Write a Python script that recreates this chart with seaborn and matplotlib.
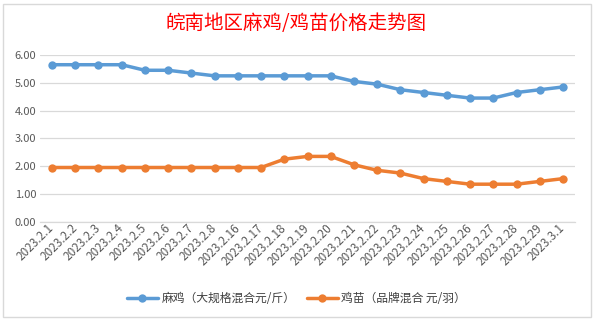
import matplotlib
matplotlib.use("Agg")
import matplotlib.pyplot as plt
import matplotlib.transforms as mtransforms
from matplotlib.patches import Rectangle
from matplotlib.lines import Line2D
import seaborn as sns
import pandas as pd

dates = ["2023.2.1", "2023.2.2", "2023.2.3", "2023.2.4", "2023.2.5", "2023.2.6",
         "2023.2.7", "2023.2.8", "2023.2.16", "2023.2.17", "2023.2.18", "2023.2.19",
         "2023.2.20", "2023.2.21", "2023.2.22", "2023.2.23", "2023.2.24", "2023.2.25",
         "2023.2.26", "2023.2.27", "2023.2.28", "2023.2.29", "2023.3.1"]
maji = [5.65, 5.65, 5.65, 5.65, 5.45, 5.45, 5.35, 5.25, 5.25, 5.25, 5.25, 5.25,
        5.25, 5.05, 4.95, 4.75, 4.65, 4.55, 4.45, 4.45, 4.65, 4.75, 4.85]
jimiao = [1.95, 1.95, 1.95, 1.95, 1.95, 1.95, 1.95, 1.95, 1.95, 1.95, 2.25, 2.35,
          2.35, 2.05, 1.85, 1.75, 1.55, 1.45, 1.35, 1.35, 1.35, 1.45, 1.55]
series_names = ["麻鸡（大规格混合元/斤）", "鸡苗（品牌混合 元/羽）"]
yticks = [0, 1, 2, 3, 4, 5, 6]
title = "皖南地区麻鸡/鸡苗价格走势图"

colors = ["#5B9BD5", "#ED7D31"]

sns.set_style("white")
plt.rcParams['font.family'] = ['Noto Sans CJK SC', 'DejaVu Sans']

df = pd.DataFrame({
    "date": dates * 2,
    "price": maji + jimiao,
    "series": [series_names[0]] * len(dates) + [series_names[1]] * len(dates),
})

fig = plt.figure(figsize=(5.93, 3.21), dpi=100)
W, H = 593, 321
ax = fig.add_axes([40.4 / W, 1 - 221.7 / H, (574.6 - 40.4) / W, (221.7 - 55) / H])

sns.lineplot(data=df, x="date", y="price", hue="series", palette=colors,
             marker="o", markersize=6, markeredgewidth=0, linewidth=2.5,
             sort=False, legend=False, ax=ax)

ax.set_xlim(-0.5, len(dates) - 0.5)
ax.set_ylim(0, 6)
ax.set_yticks(yticks)
ax.set_yticklabels([f"{v:.2f}" for v in yticks], color="#595959", fontsize=8)
ax.set_xticks(range(len(dates)))
ax.set_xticklabels(dates, rotation=45, ha="right", va="center",
                   rotation_mode="anchor", color="#595959", fontsize=8.5)
offset = mtransforms.ScaledTranslation(6 / 100, -5 / 100, fig.dpi_scale_trans)
for lbl in ax.get_xticklabels():
    lbl.set_transform(lbl.get_transform() + offset)
ax.tick_params(axis="both", length=0, pad=3)
ax.set_xlabel("")
ax.set_ylabel("")
ax.grid(axis="y", color="#D9D9D9", linewidth=0.9)
ax.set_axisbelow(True)
for s in ["top", "right", "left"]:
    ax.spines[s].set_visible(False)
ax.spines["bottom"].set_color("#D9D9D9")
ax.spines["bottom"].set_linewidth(0.9)

fig.text(0.5, 1 - 23 / H, title, ha="center", va="center", color="#FF0000",
         fontsize=14)

handles = [Line2D([], [], color=c, marker="o", markersize=6, markeredgewidth=0,
                  linewidth=2.5) for c in colors]
fig.legend(handles, series_names, loc="center", bbox_to_anchor=(0.5, 1 - 299 / H),
           ncol=2, frameon=False, fontsize=8.5, labelcolor="#404040",
           handlelength=2.6, handletextpad=0.3, columnspacing=1.0)

fig.patches.append(Rectangle((3 / W, 1 - 317 / H), (591 - 3) / W, (317 - 4) / H,
                             transform=fig.transFigure, fill=False,
                             edgecolor="#D9D9D9", linewidth=1))

fig.savefig("out.png", dpi=100)
